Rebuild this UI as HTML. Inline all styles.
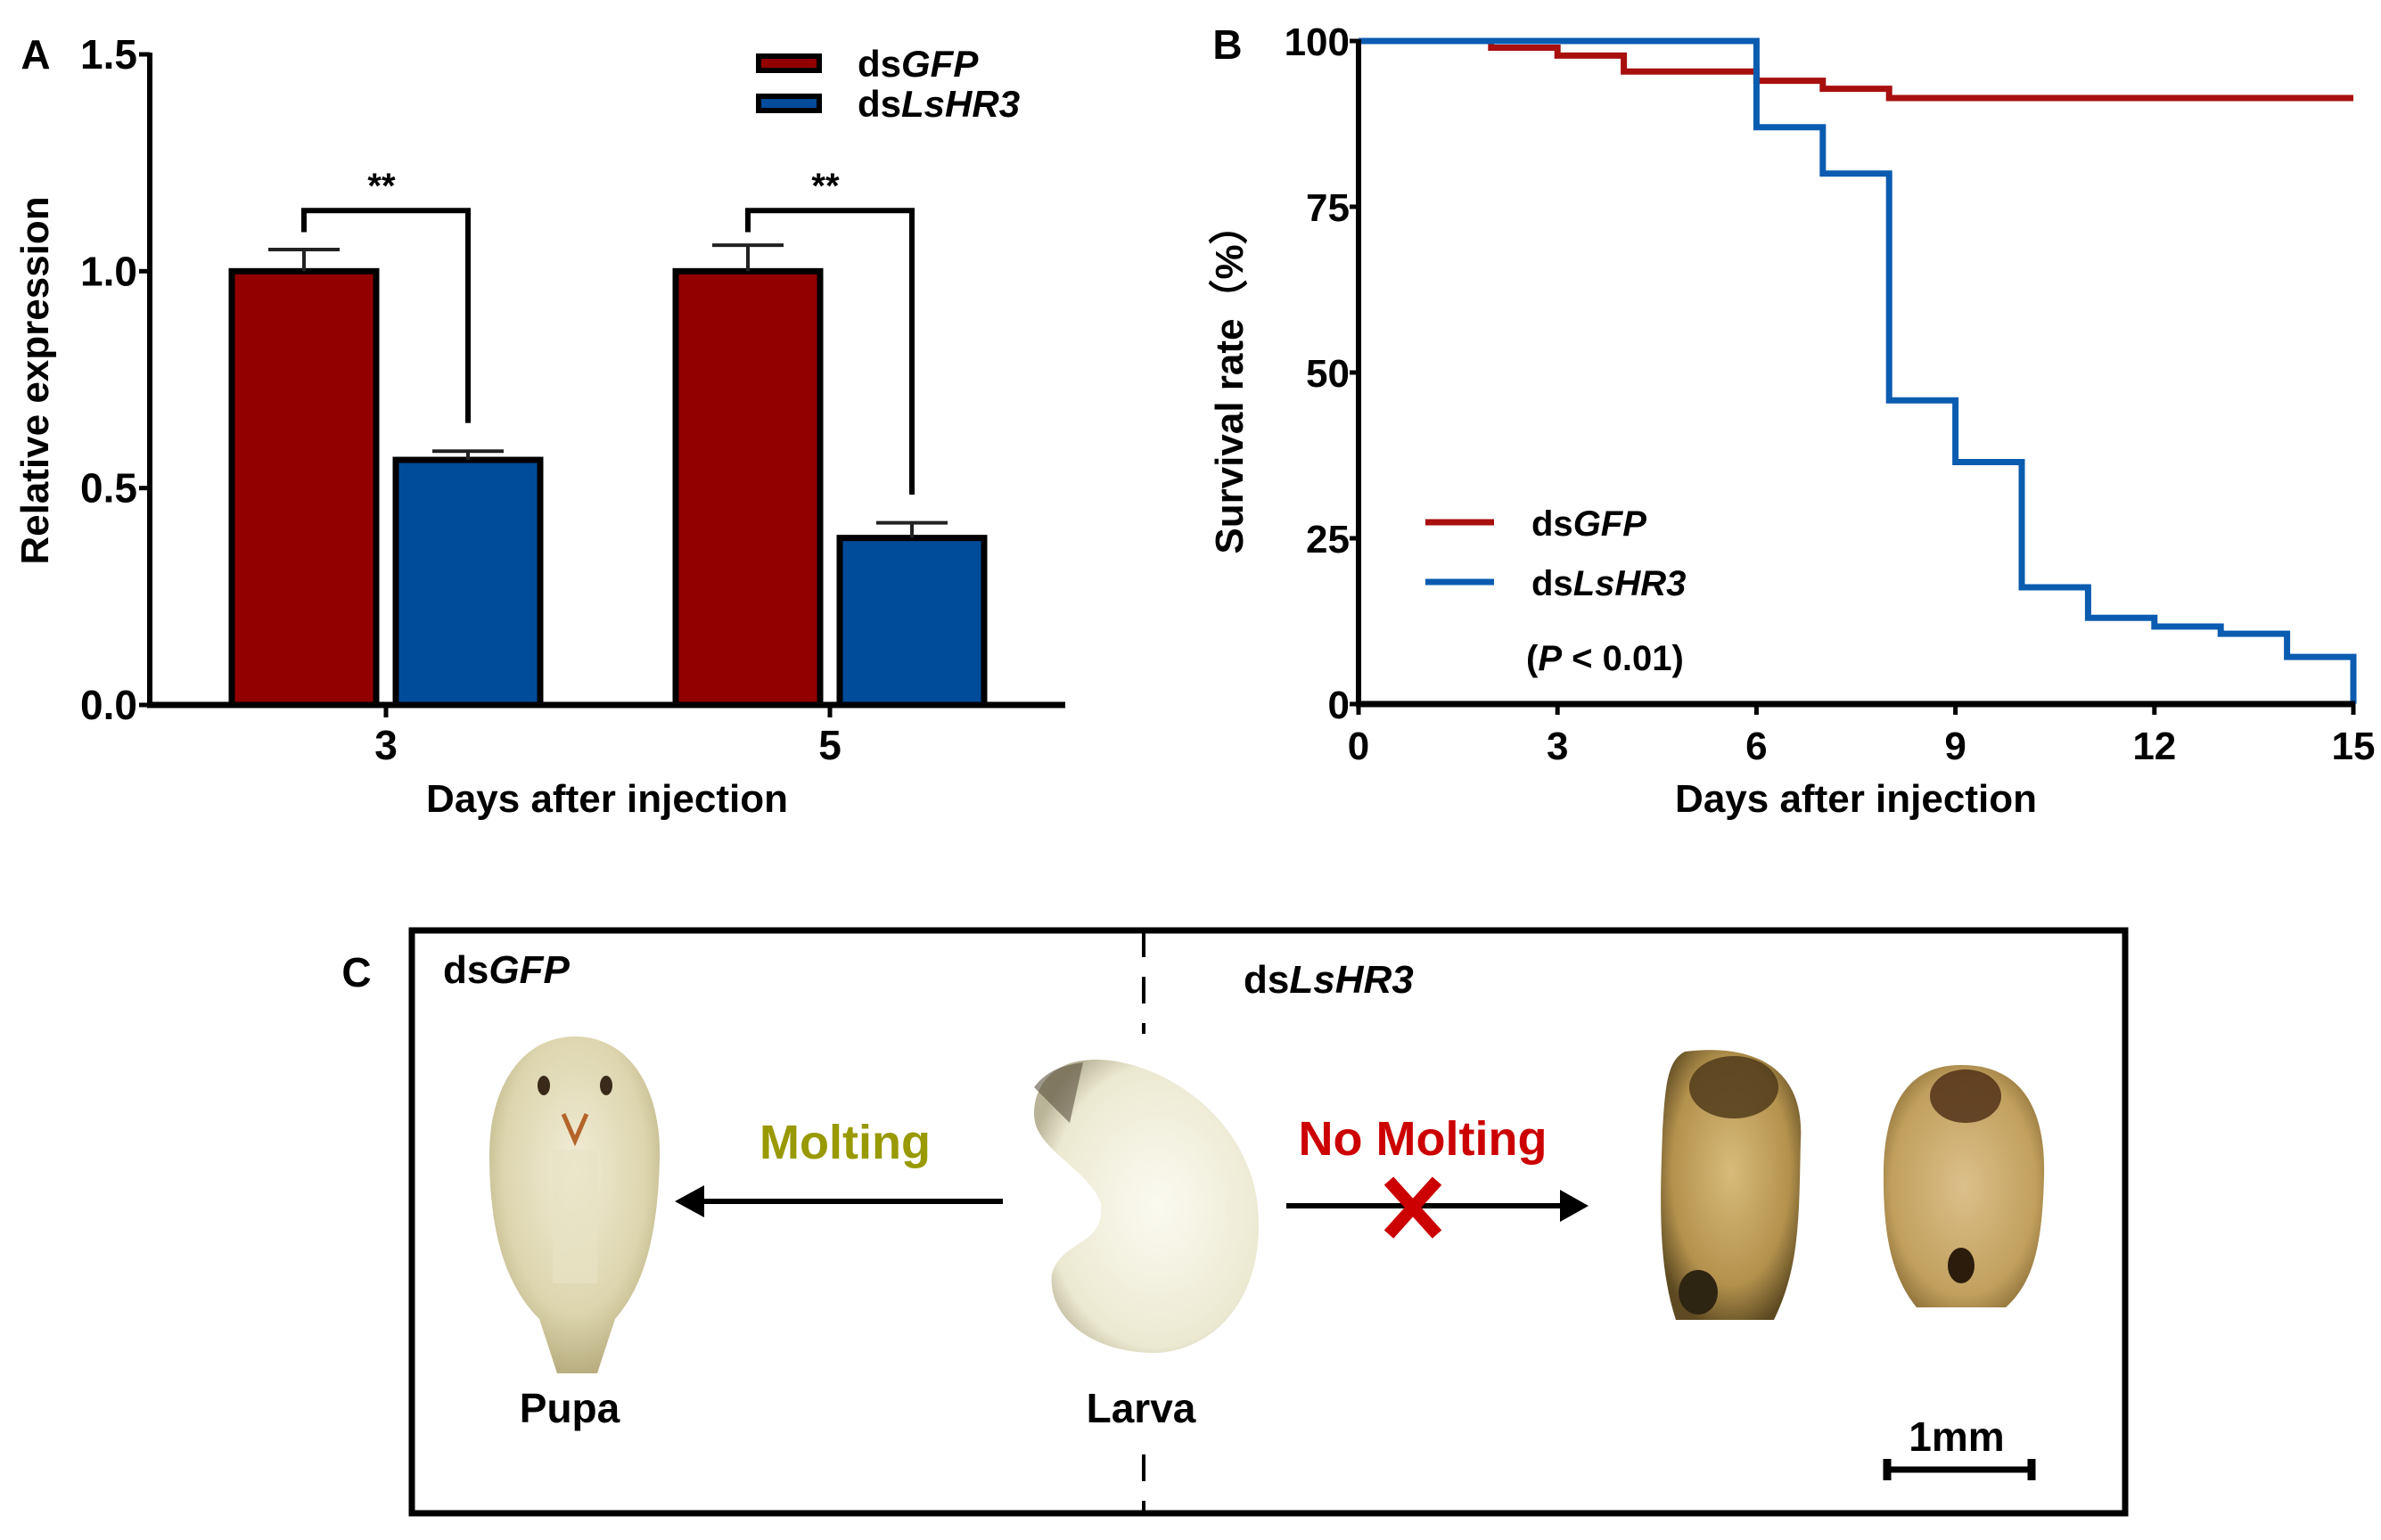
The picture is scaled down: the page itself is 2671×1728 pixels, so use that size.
<!DOCTYPE html>
<html><head><meta charset="utf-8">
<style>
html,body{margin:0;padding:0;background:#fff;}
svg{display:block;}
text{font-family:"Liberation Sans Narrow","Liberation Sans",sans-serif;font-weight:bold;fill:#000;}
</style></head>
<body>
<svg id="fig" width="2671" height="1728" viewBox="0 0 2671 1728" xmlns="http://www.w3.org/2000/svg">
<defs>
<radialGradient id="gPupa" cx="50%" cy="40%" r="60%"><stop offset="0" stop-color="#f1ecd6"/><stop offset="0.7" stop-color="#ddd5ae"/><stop offset="1" stop-color="#b8ae80"/></radialGradient>
<radialGradient id="gLarva" cx="55%" cy="50%" r="60%"><stop offset="0" stop-color="#fbfaf0"/><stop offset="0.8" stop-color="#ece9d2"/><stop offset="1" stop-color="#b9b497"/></radialGradient>
<radialGradient id="gDead1" cx="50%" cy="45%" r="60%"><stop offset="0" stop-color="#d8bb7a"/><stop offset="0.7" stop-color="#b3924d"/><stop offset="1" stop-color="#5e4a22"/></radialGradient>
<radialGradient id="gDead2" cx="50%" cy="50%" r="60%"><stop offset="0" stop-color="#dcc08a"/><stop offset="0.75" stop-color="#c1a05e"/><stop offset="1" stop-color="#8a6d36"/></radialGradient>
</defs>
<g id="panelA"></g>
<g id="panelB"></g>
<g id="panelC">
  <text x="400" y="1107" font-size="46" text-anchor="middle">C</text>
  <rect x="462" y="1044" width="1922" height="654" fill="none" stroke="#000" stroke-width="7"/>
  <line x1="1283" y1="1044" x2="1283" y2="1160" stroke="#000" stroke-width="4" stroke-dasharray="30,22"/>
  <line x1="1283" y1="1632" x2="1283" y2="1698" stroke="#000" stroke-width="4" stroke-dasharray="30,22"/>
  <text x="497" y="1103" font-size="44">ds<tspan font-style="italic">GFP</tspan></text>
  <text x="1395" y="1114" font-size="44">ds<tspan font-style="italic">LsHR3</tspan></text>
  <g>
    <path d="M645 1163 C705 1163 742 1220 740 1300 C738 1380 725 1440 690 1480 L670 1541 L625 1541 L605 1480 C565 1440 550 1380 549 1300 C548 1220 585 1163 645 1163 Z" fill="url(#gPupa)"/>
    <ellipse cx="610" cy="1218" rx="7" ry="11" fill="#3a2a1a"/>
    <ellipse cx="680" cy="1218" rx="7" ry="11" fill="#3a2a1a"/>
    <path d="M632 1250 L645 1280 L658 1250" fill="none" stroke="#b4642a" stroke-width="5"/>
    <path d="M620 1290 L620 1440 L670 1440 L670 1290" fill="#e8e2c4" opacity="0.7"/>
  </g>
  <g>
    <path d="M1215 1190 C1290 1180 1410 1250 1412 1370 C1414 1470 1350 1520 1290 1518 C1220 1516 1175 1475 1180 1430 C1190 1390 1240 1400 1235 1350 C1220 1310 1160 1290 1160 1250 C1160 1215 1185 1193 1215 1190 Z" fill="url(#gLarva)"/>
    <path d="M1160 1220 C1175 1200 1195 1195 1215 1192 L1200 1260 Z" fill="#5b5040" opacity="0.6"/>
  </g>
  <g>
    <path d="M1890 1180 C1970 1170 2025 1200 2020 1280 C2018 1360 2020 1420 1990 1481 L1880 1481 C1860 1420 1862 1350 1865 1270 C1868 1220 1870 1190 1890 1180 Z" fill="url(#gDead1)"/>
    <ellipse cx="1945" cy="1220" rx="50" ry="35" fill="#4a3416" opacity="0.8"/>
    <ellipse cx="1905" cy="1450" rx="22" ry="25" fill="#2e2412"/>
  </g>
  <g>
    <path d="M2200 1195 C2265 1195 2295 1240 2293 1320 C2291 1400 2280 1440 2250 1467 L2150 1467 C2120 1430 2112 1380 2113 1310 C2115 1240 2140 1195 2200 1195 Z" fill="url(#gDead2)"/>
    <ellipse cx="2205" cy="1230" rx="40" ry="30" fill="#4a2a14" opacity="0.8"/>
    <ellipse cx="2200" cy="1420" rx="15" ry="20" fill="#2b1c0c"/>
  </g>
  <text x="948" y="1300" font-size="54" style="fill:#999900" text-anchor="middle">Molting</text>
  <text x="1596" y="1296" font-size="54" style="fill:#cc0000" text-anchor="middle">No Molting</text>
  <line x1="785" y1="1348" x2="1125" y2="1348" stroke="#000" stroke-width="6"/>
  <polygon points="757,1348 790,1330 790,1366" fill="#000"/>
  <line x1="1443" y1="1353" x2="1755" y2="1353" stroke="#000" stroke-width="6"/>
  <polygon points="1782,1353 1750,1335 1750,1371" fill="#000"/>
  <g stroke="#cc0000" stroke-width="14" stroke-linecap="butt">
    <line x1="1558" y1="1325" x2="1612" y2="1385"/><line x1="1612" y1="1325" x2="1558" y2="1385"/>
  </g>
  <text x="639" y="1596" font-size="46" text-anchor="middle">Pupa</text>
  <text x="1280" y="1596" font-size="46" text-anchor="middle">Larva</text>
  <text x="2195" y="1628" font-size="46" text-anchor="middle">1mm</text>
  <line x1="2117" y1="1649" x2="2279" y2="1649" stroke="#000" stroke-width="7"/>
  <line x1="2117" y1="1637" x2="2117" y2="1661" stroke="#000" stroke-width="9"/>
  <line x1="2279" y1="1637" x2="2279" y2="1661" stroke="#000" stroke-width="9"/>
</g>
<script>
// Panel A data
const aCategories = ["3", "5"];
const aGfp = [1.0, 1.0];
const aGfpErr = [0.05, 0.06];
const aHr3 = [0.565, 0.385];
const aHr3Err = [0.02, 0.035];
const aTicks = [0, 0.5, 1.0, 1.5];
const aTickLabels = ["0.0", "0.5", "1.0", "1.5"];
// Panel B data
const bDays = [0,1,2,3,4,5,6,7,8,9,10,11,12,13,14,15];
const bGfp = [100,100,99,97.8,95.4,95.4,94,92.8,91.4,91.4,91.4,91.4,91.4,91.4,91.4,91.4];
const bHr3 = [100,100,100,100,100,100,87,80,45.8,36.5,17.6,13,11.7,10.6,7.1,0];
const bXTicks = [0,3,6,9,12,15];
const bYTicks = [0,25,50,75,100];

const NS = "http://www.w3.org/2000/svg";
function mk(parent, tag, attrs, txt){
  const e = document.createElementNS(NS, tag);
  for (const k in attrs) e.setAttribute(k, attrs[k]);
  if (txt !== undefined) e.textContent = txt;
  parent.appendChild(e); return e;
}
const RED = "#930000", BLUE = "#014b9b";

// ---------- Panel A ----------
(function(){
  const g = document.getElementById("panelA");
  const y0 = 791, yTop = 61, ax = 168;
  const ay = v => y0 - (v / 1.5) * (y0 - yTop);
  const groupX = [433, 931];
  const bw = 162, off = 92;
  let t;
  t = mk(g, "text", {x: 40, y: 77, "font-size": 46, "text-anchor": "middle"}, "A");
  
  
  aCategories.forEach((c, i) => {
    const cx = groupX[i];
    const vals = [aGfp[i], aHr3[i]], errs = [aGfpErr[i], aHr3Err[i]], cols = [RED, BLUE];
    [-1, 1].forEach((s, j) => {
      const bx = cx + s * off - bw / 2;
      const yv = ay(vals[j]);
      const r = mk(g, "rect", {x: bx, y: yv, width: bw, height: y0 - yv, fill: cols[j], stroke: "#000", "stroke-width": 7});
      
      
      const ye = ay(vals[j] + errs[j]);
      const e = mk(g, "path", {d: `M${cx + s*off} ${yv} V${ye} M${cx + s*off - 40} ${ye} H${cx + s*off + 40}`, stroke: "#222", "stroke-width": 4, fill: "none"});
      
      
    });
    const topY = ay(1.14), lx = cx - off, rx = cx + off;
    const lEnd = ay(Math.max(aGfp[i] + aGfpErr[i] + 0.03, 1.09));
    const rEnd = ay(aHr3[i] + aHr3Err[i] + 0.065);
    const br = mk(g, "path", {d: `M${lx} ${lEnd} V${topY} H${rx} V${rEnd}`, stroke: "#000", "stroke-width": 6, fill: "none"});
    
    
    const st = mk(g, "text", {x: (lx + rx) / 2 - 5, y: 222, "font-size": 40, "text-anchor": "middle"}, "**");
    
    
    const tk = mk(g, "line", {x1: cx, y1: y0, x2: cx, y2: y0 + 14, stroke: "#000", "stroke-width": 5});
    
    
    const tl = mk(g, "text", {x: cx, y: 852, "font-size": 46, "text-anchor": "middle"}, c);
    
    
  });
  const yl = mk(g, "line", {x1: ax, y1: yTop - 2, x2: ax, y2: y0 + 3, stroke: "#000", "stroke-width": 6});
  
  
  const xl = mk(g, "line", {x1: ax - 3, y1: y0, x2: 1195, y2: y0, stroke: "#000", "stroke-width": 7});
  
  
  aTicks.forEach((v, i) => {
    const yy = ay(v);
    const tk = mk(g, "line", {x1: ax - 12, y1: yy, x2: ax, y2: yy, stroke: "#000", "stroke-width": 5});
    
    
    const tl = mk(g, "text", {x: ax - 14, y: yy + 16, "font-size": 46, "text-anchor": "end"}, aTickLabels[i]);
    
    
  });
  const yt = mk(g, "text", {x: 0, y: 0, "font-size": 44, "text-anchor": "middle", transform: "translate(54,427) rotate(-90)"}, "Relative expression");
  
  
  const xt = mk(g, "text", {x: 681, y: 911, "font-size": 44, "text-anchor": "middle"}, "Days after injection");
  
  
  [[RED, "GFP", 71], [BLUE, "LsHR3", 116]].forEach(([col, nm, yy]) => {
    const r = mk(g, "rect", {x: 851, y: yy - 8, width: 68, height: 16, fill: col, stroke: "#000", "stroke-width": 6});
    
    
    const t2 = mk(g, "text", {x: 962, y: yy + 15, "font-size": 42});
    
    
    t2.appendChild(document.createTextNode("ds"));
    mk(t2, "tspan", {"font-style": "italic"}, nm);
  });
})();

// ---------- Panel B ----------
(function(){
  const g = document.getElementById("panelB");
  const x0 = 1524, x1 = 2640, y0 = 790, yTop = 46;
  const bx = d => x0 + d / 15 * (x1 - x0);
  const by = v => y0 - v / 100 * (y0 - yTop);
  const t = mk(g, "text", {x: 1377, y: 66, "font-size": 46, "text-anchor": "middle"}, "B");
  
  
  function stepPath(vals){
    let d = `M${bx(bDays[0])} ${by(vals[0])}`;
    for (let i = 1; i < bDays.length; i++) {
      d += ` H${bx(bDays[i])} V${by(vals[i])}`;
    }
    return d;
  }
  const pr = mk(g, "path", {d: stepPath(bGfp), stroke: "#a80f0f", "stroke-width": 7, fill: "none"});
  
  
  const pb = mk(g, "path", {d: stepPath(bHr3), stroke: "#0a5cb0", "stroke-width": 7, fill: "none"});
  
  
  const yl = mk(g, "line", {x1: x0, y1: yTop - 2, x2: x0, y2: y0 + 3, stroke: "#000", "stroke-width": 6});
  
  
  const xl = mk(g, "line", {x1: x0 - 3, y1: y0, x2: x1 + 2, y2: y0, stroke: "#000", "stroke-width": 7});
  
  
  bYTicks.forEach(v => {
    const yy = by(v);
    const tk = mk(g, "line", {x1: x0 - 10, y1: yy, x2: x0, y2: yy, stroke: "#000", "stroke-width": 5});
    
    
    const tl = mk(g, "text", {x: x0 - 10, y: yy + 16, "font-size": 44, "text-anchor": "end"}, String(v));
    
    
  });
  bXTicks.forEach(v => {
    const xx = bx(v);
    const tk = mk(g, "line", {x1: xx, y1: y0, x2: xx, y2: y0 + 12, stroke: "#000", "stroke-width": 5});
    
    
    const tl = mk(g, "text", {x: xx, y: 852, "font-size": 44, "text-anchor": "middle"}, String(v));
    
    
  });
  const yt = mk(g, "text", {x: 0, y: 0, "font-size": 44, "text-anchor": "middle", transform: "translate(1394,426) rotate(-90)"}, "Survival rate（%）");
  
  
  const xt = mk(g, "text", {x: 2082, y: 911, "font-size": 44, "text-anchor": "middle"}, "Days after injection");
  
  
  [["#a80f0f", "GFP", 586], ["#0a5cb0", "LsHR3", 653]].forEach(([col, nm, yy]) => {
    const l = mk(g, "line", {x1: 1599, y1: yy, x2: 1676, y2: yy, stroke: col, "stroke-width": 7});
    
    
    const t2 = mk(g, "text", {x: 1718, y: yy + 15, "font-size": 40, "font-weight": "normal"});
    
    
    t2.appendChild(document.createTextNode("ds"));
    mk(t2, "tspan", {"font-style": "italic"}, nm);
  });
  const pv = mk(g, "text", {x: 1712, y: 752, "font-size": 40});
  
  
  pv.appendChild(document.createTextNode("("));
  mk(pv, "tspan", {"font-style": "italic"}, "P");
  pv.appendChild(document.createTextNode(" < 0.01)"));
})();
</script>
</body></html>
